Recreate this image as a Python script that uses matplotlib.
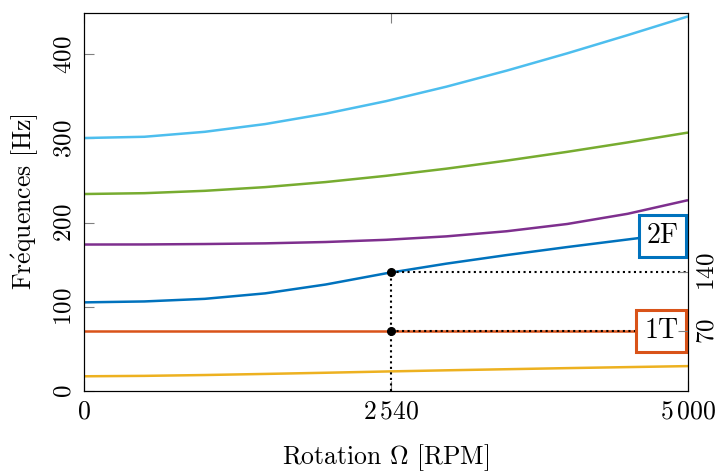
import numpy as np
from matplotlib import pyplot as plt

plt.rcParams['font.family'] = ['cmr10', 'DejaVu Serif']
plt.rcParams['mathtext.fontset'] = 'cm'
plt.rcParams['axes.formatter.use_mathtext'] = True

# rotation speed samples [RPM]
rpm = [0, 500, 1000, 1500, 2000, 2500, 3000, 3500, 4000, 4500, 5000]

# natural frequencies [Hz]
f_yellow = [17.5, 18, 19, 20.3, 21.7, 23.2, 24.6, 25.9, 27.2, 28.4, 29.6]
f_1T = [71.2] * 11
f_2F = [105.3, 106.4, 109.5, 116, 126.5, 139.8, 151.3, 161.5, 171, 180, 189]
f_purple = [174, 174.1, 174.6, 175.4, 177, 179.6, 183.7, 189.8, 198.4, 210.5, 226.7]
f_green = [234, 235, 237.8, 242.2, 248.2, 255.6, 264.1, 273.7, 284.1, 295.3, 307]
f_cyan = [300.5, 302, 307.9, 317.1, 329.4, 344.3, 361.5, 380.6, 401.1, 422.7, 445]

omega_op = 2540          # operating speed
f_op = [71.2, 141.8]     # crossing points
op_labels = ['70', '140']

colors = ['#EDB120', '#D95319', '#0072BD', '#7E2F8E', '#77AC30', '#4DBEEE']
series = [f_yellow, f_1T, f_2F, f_purple, f_green, f_cyan]

fig = plt.figure(figsize=(7.19, 4.75), dpi=100)
ax = fig.add_axes([0.1168, 0.1768, 0.8401, 0.7958])

for f, c in zip(series, colors):
    ax.plot(rpm, f, color=c, lw=1.8, solid_capstyle='butt')

# dotted guides from the operating speed
ax.plot([omega_op, omega_op], [0, max(f_op)], ':', color='k', lw=1.5)
for fv in f_op:
    ax.plot([omega_op, 5000], [fv, fv], ':', color='k', lw=1.5)
ax.plot([omega_op] * len(f_op), f_op, 'o', color='k', ms=5.5)

# mode labels, boxes stuck to the right spine
for name, yv, col in [('1T', 71.2, '#D95319'), ('2F', 184.3, '#0072BD')]:
    ax.annotate(name, xy=(5000, yv), xytext=(-7, 0), textcoords='offset points',
                ha='right', va='center', fontsize=20, zorder=5,
                bbox=dict(boxstyle='square,pad=0.28', fc='white', ec=col, lw=2.2))

ax.set_xlim(0, 5000)
ax.set_ylim(0, 449)
ax.set_xticks([0, omega_op, 5000])
ax.set_xticklabels([r'$0$', r'$2\,540$', r'$5\,000$'], fontsize=18.5)
ax.set_yticks([0, 100, 200, 300, 400])
ax.set_yticklabels([r'$0$', r'$100$', r'$200$', r'$300$', r'$400$'],
                   fontsize=18, rotation=90, va='center')
ax.tick_params(direction='in', length=7, color='gray', right=True, top=True, pad=6)

ax2 = ax.twinx()
ax2.set_ylim(ax.get_ylim())
ax2.set_yticks(f_op)
ax2.set_yticklabels([r'$%s$' % s for s in op_labels], fontsize=18,
                    rotation=90, va='center')
ax2.tick_params(direction='in', length=7, color='gray', pad=6)

ax.set_xlabel(r'Rotation $\Omega$ [RPM]', fontsize=18.5, labelpad=14)
ax.set_ylabel(r'Fr$\acute{\mathrm{e}}$quences [Hz]', fontsize=18.5, labelpad=9)

fig.savefig('out.png', dpi=100)
